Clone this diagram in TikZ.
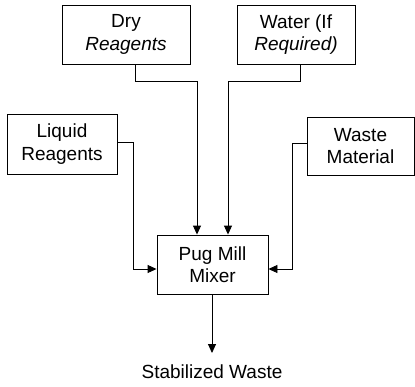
\documentclass[tikz,border=0pt]{standalone}
\usepackage{fontspec}
\setmainfont{Liberation Sans}
\usetikzlibrary{arrows.meta}
\tikzset{
  box/.style={draw, line width=0.9pt, align=center, inner sep=0pt,
    font=\fontsize{19}{22.5}\selectfont},
  arr/.style={line width=0.9pt, -{Triangle[length=9pt,width=8pt]}},
  lbl/.style={font=\fontsize{19}{22.5}\selectfont, inner sep=0pt}
}
\begin{document}
\begin{tikzpicture}[x=1pt,y=-1pt]
\useasboundingbox (0,0) rectangle (415,386);
\node[box, minimum width=128pt, minimum height=59pt] (dry) at (126,34.5) {Dry\\\itshape Reagents};
\node[box, minimum width=118pt, minimum height=59pt] (water) at (296,34.5) {Water (If\\\itshape Required)};
\node[box, minimum width=110pt, minimum height=60pt] (liquid) at (62,144) {Liquid\\Reagents};
\node[box, minimum width=107pt, minimum height=58pt] (waste) at (360.5,146) {Waste\\Material};
\node[box, minimum width=111pt, minimum height=59pt] (pug) at (212.5,264.5) {Pug Mill\\Mixer};
\node[lbl] (out) at (212,372) {Stabilized Waste};
\coordinate (d1) at (197,81);
\coordinate (w1) at (228,81);
\coordinate (l1) at (133,269);
\coordinate (r1) at (292,269);
\coordinate (o1) at (212,353);
\draw[arr] ([xshift=9pt]dry.south) |- (d1) -- (d1 |- pug.north);
\draw[arr] ([xshift=4pt]water.south) |- (w1) -- (w1 |- pug.north);
\draw[arr] ([yshift=2pt]liquid.east) -| (l1) -- (l1 -| pug.west);
\draw[arr] ([yshift=3pt]waste.west) -| (r1) -- (r1 -| pug.east);
\draw[arr] (pug.south -| o1) -- (o1);
\end{tikzpicture}
\end{document}
